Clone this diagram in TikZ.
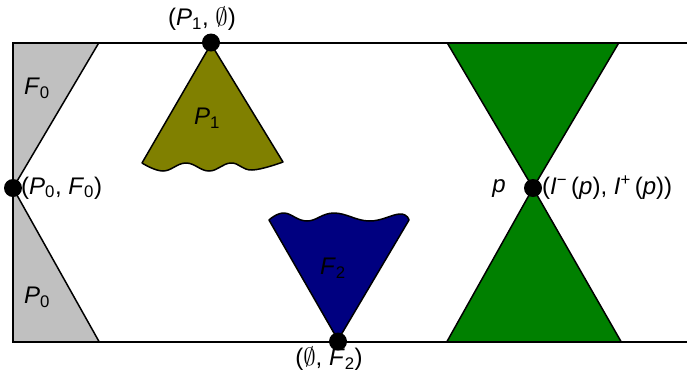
\documentclass[tikz,border=0pt]{standalone}
\usepackage{amsmath}
\usepackage{fontspec}
\setmainfont{Liberation Sans}
\definecolor{cgray}{RGB}{192,192,192}
\definecolor{colive}{RGB}{128,128,0}
\definecolor{cnavy}{RGB}{0,0,128}
\definecolor{cgreen}{RGB}{0,128,0}
\newcommand{\vsub}[1]{$_{\text{#1}}$}
\newcommand{\vsup}[1]{$^{\text{#1}}$}
\tikzset{
  dot/.style={circle,fill=black,minimum size=18pt,inner sep=0pt},
  lbl/.style={inner sep=0pt,font=\fontsize{24}{28}\selectfont},
  edge/.style={line width=1.5pt,line join=round},
  frame/.style={line width=2pt}
}
\begin{document}
\begin{tikzpicture}[x=1pt,y=-1pt]
\useasboundingbox (0,0) rectangle (687,376);
% gray regions
\fill[cgray] (13,42.5) -- (99,42.5) -- (13,188) -- cycle;
\fill[cgray] (13,188) -- (99,341.5) -- (13,341.5) -- cycle;
\draw[edge] (99,42.5) -- (13,188) -- (99,341.5);
% P1 cone
\filldraw[edge,fill=colive] (211,44) --
  plot[smooth,tension=0.7] coordinates {(142,163) (163,171) (186,163) (209,171) (231,163) (252,170) (283,162)}
  -- cycle;
% F2 cone
\filldraw[edge,fill=cnavy] (338,340) --
  plot[smooth,tension=0.7] coordinates {(269,220) (284,213) (307,221) (334,213) (369,221) (400,214) (409,220)}
  -- cycle;
% green double cone
\fill[cgreen] (447,42.5) -- (619,42.5) -- (533,188) -- cycle;
\fill[cgreen] (533,188) -- (621,341.5) -- (447,341.5) -- cycle;
\draw[edge] (447,42.5) -- (533,188) -- (621,341.5);
\draw[edge] (619,42.5) -- (533,188) -- (447,341.5);
% frame
\draw[frame] (687,42.5) -- (13,42.5) -- (13,341.5) -- (687,341.5);
% dots
\node[dot] (d0) at (13,188) {};
\node[dot] (d1) at (211,42.5) {};
\node[dot] (d2) at (338,341.5) {};
\node[dot] (dp) at (533,188) {};
% labels
\node[lbl] (lf0) at (37,88) {\textit{F}\vsub{0}};
\node[lbl] (lp0) at (37,297) {\textit{P}\vsub{0}};
\node[lbl,anchor=west] (lpf0) at (21,188) {(\textit{P}\vsub{0}, \textit{F}\vsub{0})};
\node[lbl] (lp1) at (207,118) {\textit{P}\vsub{1}};
\node[lbl] (lp1e) at (202,19) {(\textit{P}\vsub{1}, $\emptyset$)};
\node[lbl] (lf2) at (333,268) {\textit{F}\vsub{2}};
\node[lbl] (lf2e) at (329,359) {($\emptyset$, \textit{F}\vsub{2})};
\node[lbl] (lpp) at (499,189) {\textit{p}};
\node[lbl,anchor=west] (lip) at (542,188) {(\textit{I}\vsup{−}\,(\textit{p}), \textit{I}\vsup{+}\,(\textit{p}))};
\end{tikzpicture}
\end{document}
